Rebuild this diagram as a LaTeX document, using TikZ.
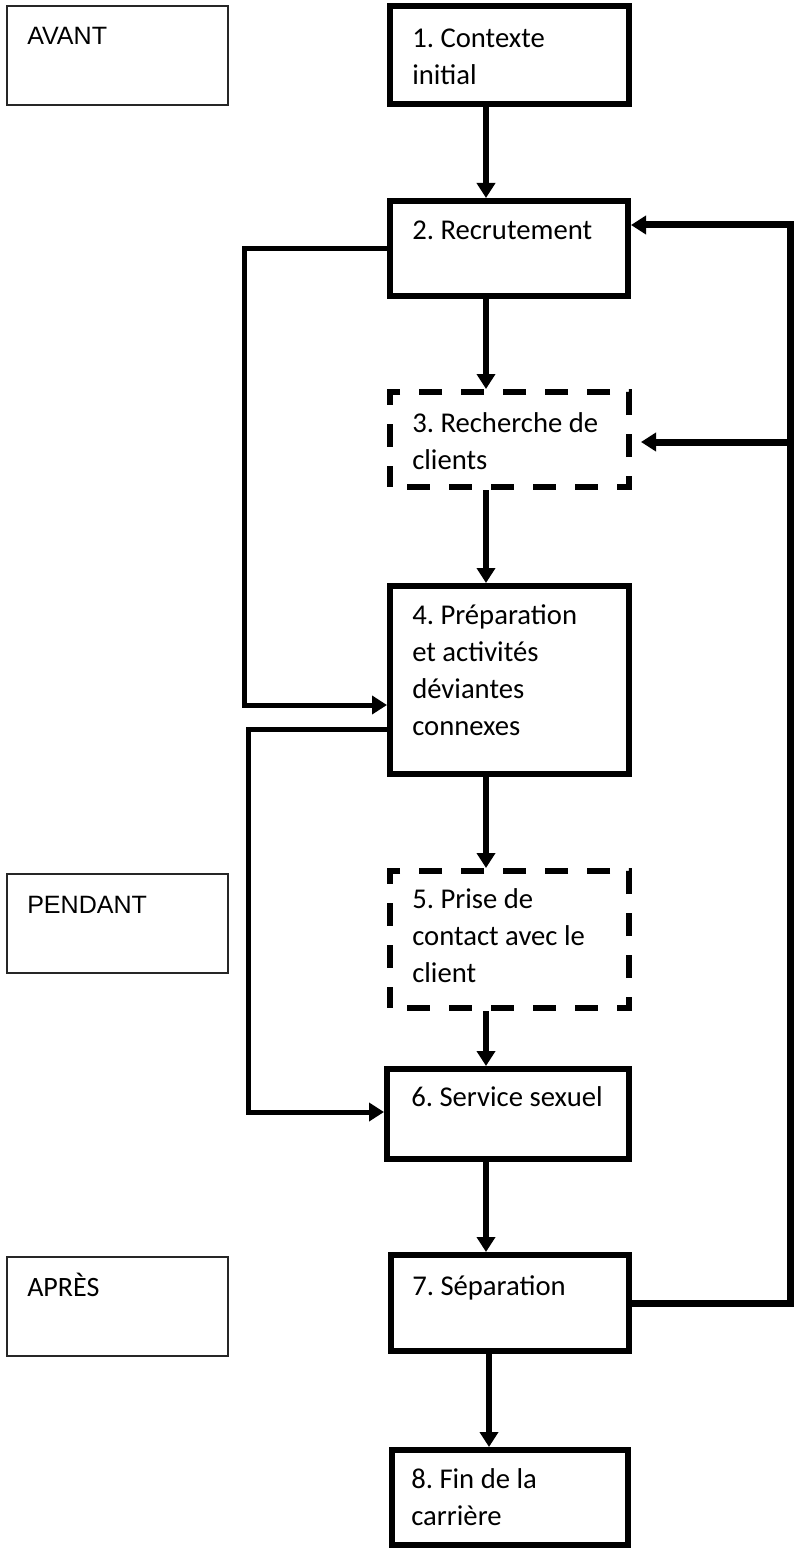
\documentclass[tikz,border=0pt]{standalone}
\usepackage{fontspec}
\setmainfont{Carlito}
\newfontfamily\arialf{Liberation Sans}
\usetikzlibrary{arrows.meta,calc}
\frenchspacing
\begin{document}
\begin{tikzpicture}[x=0.75pt,y=-0.75pt,
  stepbox/.style={draw=black, line width=4.5pt, inner sep=0pt, fill=white},
  dashbox/.style={stepbox, dash pattern=on 17.25pt off 14.25pt, dash phase=18.75pt},
  phasebox/.style={draw=black!85, line width=1.1pt, inner sep=0pt},
  txt/.style={anchor=base west, inner sep=0pt, text width=170pt, align=flush left,
    font=\frenchspacing\fontsize{21.5}{27.75}\selectfont},
  phasetxt/.style={anchor=base west, inner sep=0pt},
  arr/.style={line width=4.1pt, -{Triangle[width=13.5pt,length=11.25pt]}},
  loopl/.style={line width=3.75pt, -{Triangle[width=13.5pt,length=11.25pt]}},
  loopr/.style={line width=5.25pt, -{Triangle[width=13.5pt,length=11.25pt]}},
]
\useasboundingbox (0,0) rectangle (796,1551);

% phase boxes
\node[phasebox, minimum width={221*0.75pt}, minimum height={99*0.75pt}] (pavant) at (117.5,55.5) {};
\node[phasebox, minimum width={221*0.75pt}, minimum height={99*0.75pt}] (ppendant) at (117.5,923.5) {};
\node[phasebox, minimum width={221*0.75pt}, minimum height={99*0.75pt}] (papres) at (117.5,1306.5) {};
\node[phasetxt, font=\arialf\fontsize{18.8}{22}\selectfont] (tavant) at (27,45) {AVANT};
\node[phasetxt, font=\arialf\fontsize{18.8}{22}\selectfont] (tpendant) at (27,913) {PENDANT};
\node[phasetxt, font=\fontsize{21}{25}\selectfont] (tapres) at (27,1296) {APRÈS};

% step boxes
\node[stepbox, minimum width={239*0.75pt}, minimum height={98*0.75pt}] (b1) at (509.5,55) {};
\node[stepbox, minimum width={238*0.75pt}, minimum height={95*0.75pt}] (b2) at (509,248.5) {};
\node[dashbox, minimum width={239*0.75pt}, minimum height={95*0.75pt}] (b3) at (509.5,439.5) {};
\node[stepbox, minimum width={239*0.75pt}, minimum height={188*0.75pt}] (b4) at (509.5,680) {};
\node[dashbox, minimum width={239*0.75pt}, minimum height={137*0.75pt}] (b5) at (509.5,939.5) {};
\node[stepbox, minimum width={242*0.75pt}, minimum height={90*0.75pt}] (b6) at (508,1114) {};
\node[stepbox, minimum width={238*0.75pt}, minimum height={96*0.75pt}] (b7) at (510,1303) {};
\node[stepbox, minimum width={236*0.75pt}, minimum height={95*0.75pt}] (b8) at (510,1497.5) {};

% texts
\node[txt] (t1) at (412,48) {1. Contexte\\initial};
\node[txt] (t2) at (412,240) {2. Recrutement};
\node[txt] (t3) at (412,432) {3. Recherche de\\clients};
\node[txt] (t4) at (412,624) {4. Préparation\\et activités\\déviantes\\connexes};
\node[txt] (t5) at (412,908) {5. Prise de\\contact avec le\\client};
\node[txt] (t6) at (411,1106) {6. Service sexuel};
\node[txt] (t7) at (412,1295) {7. Séparation};
\node[txt] (t8) at (411,1488) {8. Fin de la\\carrière};

% vertical arrows
\coordinate (ax) at (486,0);
\coordinate (ay) at (489,0);
\draw[arr] (b1.south -| ax) -- (b2.north -| ax);
\draw[arr] (b2.south -| ax) -- (b3.north -| ax);
\draw[arr] (b3.south -| ax) -- (b4.north -| ax);
\draw[arr] (b4.south -| ax) -- (b5.north -| ax);
\draw[arr] (b5.south -| ax) -- (b6.north -| ax);
\draw[arr] (b6.south -| ax) -- (b7.north -| ax);
\draw[arr] (b7.south -| ay) -- (b8.north -| ay);

% left loops
\coordinate (k1) at (244,705);
\coordinate (k2s) at (0,729);
\coordinate (k2) at (248,1112);
\draw[loopl] (b2.west) -| (k1) -- (k1 -| b4.west);
\draw[loopl] (b4.west |- k2s) -| (k2) -- (k2 -| b6.west);

% right loop
\coordinate (r1) at (790,225);
\coordinate (r2) at (790,442);
\draw[loopr] (b7.east) -| (r1) -- (r1 -| b2.east);
\draw[loopr, shorten >=6.75pt] (r2) -- (r2 -| b3.east);
\end{tikzpicture}
\end{document}
